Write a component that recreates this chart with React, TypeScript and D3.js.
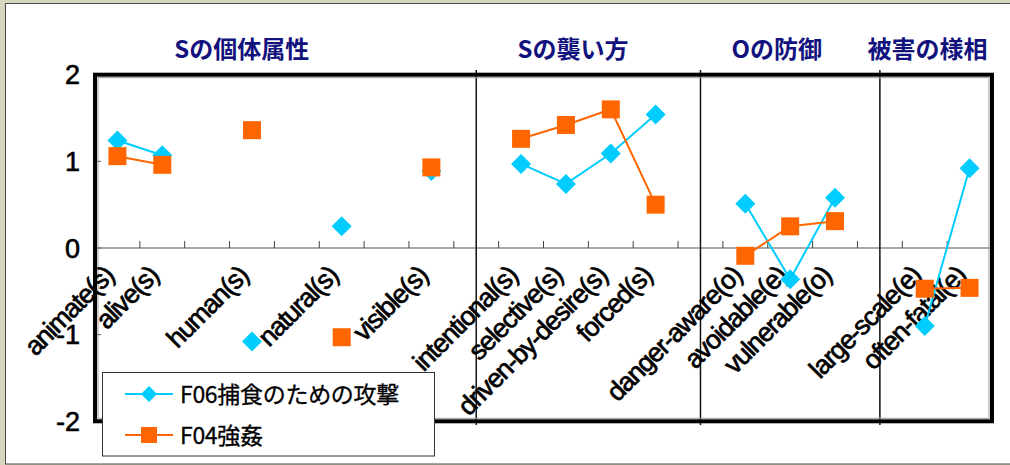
import React from "react";
import * as d3 from "d3";

// Category slots along the x axis; empty strings are spacer slots.
const categories: string[] = [
  "animate(s)", "alive(s)", "", "human(s)", "", "natural(s)", "", "visible(s)", "",
  "intentional(s)", "selective(s)", "driven-by-desire(s)", "forced(s)", "",
  "danger-aware(o)", "avoidable(e)", "vulnerable(o)", "",
  "large-scale(e)", "often-fatal(e)",
];

// F06 捕食のための攻撃
const seriesF06: (number | null)[] = [
  1.24, 1.07, null, -1.08, null, 0.25, null, 0.89, null,
  0.97, 0.74, 1.09, 1.54, null,
  0.51, -0.36, 0.58, null,
  -0.9, 0.92,
];

// F04 強姦
const seriesF04: (number | null)[] = [
  1.06, 0.96, null, 1.36, null, -1.03, null, 0.93, null,
  1.26, 1.42, 1.6, 0.5, null,
  -0.09, 0.25, 0.31, null,
  -0.47, -0.46,
];

const yTicks: number[] = [2, 1, 0, -1, -2];

// Spacer slots where group separators are drawn.
const dividerSlots: number[] = [8, 13, 17];

// Group headings and the slot position they are centred over.
const groupTitles: string[] = ["Sの個体属性", "Sの襲い方", "Oの防御", "被害の様相"];
const groupTitleSlots: number[] = [2.77, 10.16, 14.7, 18.06];

const seriesNames: string[] = ["F06捕食のための攻撃", "F04強姦"];
const seriesColors: string[] = ["#00CCFF", "#FF6600"];

const W = 1010;
const H = 465;
const plot = { left: 95, right: 992, top: 74.7, bottom: 421.3 };

export default function App() {
  const x = d3
    .scaleBand<number>()
    .domain(categories.map((_, i) => i))
    .range([plot.left, plot.right])
    .padding(0);
  const bw = x.bandwidth();
  const cx = (i: number) => plot.left + (i + 0.5) * bw;
  const y = d3.scaleLinear().domain([-2, 2]).range([plot.bottom, plot.top]);
  const y0 = y(0);

  const line = d3
    .line<number | null>()
    .defined((d) => d !== null)
    .x((_, i) => cx(i))
    .y((d) => y(d as number));

  const diamond = d3.symbol(d3.symbolSquare, 200)()!;
  const square = d3.symbol(d3.symbolSquare, 18 * 18)()!;
  const legendDiamond = d3.symbol(d3.symbolSquare, 128)()!;
  const legendSquare = d3.symbol(d3.symbolSquare, 16 * 16)()!;

  const boundaries = d3.range(1, categories.length).map((i) => plot.left + i * bw);

  return (
    <svg
      width={W}
      height={H}
      style={{ position: "absolute", left: 0, top: 0 }}
      xmlns="http://www.w3.org/2000/svg"
    >
      <rect x={0} y={0} width={W} height={H} fill="#d5d6bb" />
      <rect x={5.5} y={3.5} width={W} height={460.5} fill="#ffffff" stroke="#4a4a4a" strokeWidth={1} />

      {/* group headings */}
      {groupTitles.map((t, i) => (
        <text
          key={t}
          x={cx(groupTitleSlots[i])}
          y={58}
          textAnchor="middle"
          fontFamily="'Noto Sans CJK JP', sans-serif"
          fontWeight="bold"
          fontSize={24}
          fill="#12127e"
        >
          {t}
        </text>
      ))}

      {/* y axis labels */}
      {yTicks.map((t) => (
        <text
          key={t}
          x={80}
          y={y(t) + 9.5}
          textAnchor="end"
          fontFamily="'Liberation Sans', Arial, sans-serif"
          fontSize={27}
          fill="#000"
          stroke="#000"
          strokeWidth={0.6}
        >
          {t}
        </text>
      ))}

      {/* y ticks */}
      {yTicks.map((t) => (
        <line key={"yt" + t} x1={plot.left} x2={plot.left + 6} y1={y(t)} y2={y(t)} stroke="#555" strokeWidth={1} />
      ))}

      {/* zero line with category ticks */}
      <line x1={plot.left} x2={plot.right} y1={y0} y2={y0} stroke="#555" strokeWidth={1.2} />
      {boundaries.map((bx, i) => (
        <line key={"xt" + i} x1={bx} x2={bx} y1={y0 - 7} y2={y0} stroke="#444" strokeWidth={1} />
      ))}

      {/* group separators */}
      {dividerSlots.map((s) => (
        <line key={"dv" + s} x1={cx(s)} x2={cx(s)} y1={70} y2={425} stroke="#111" strokeWidth={1.5} />
      ))}

      {/* plot frame */}
      <rect
        x={plot.left + 3}
        y={plot.top + 3}
        width={plot.right - plot.left - 6}
        height={plot.bottom - plot.top - 6}
        fill="none"
        stroke="#999"
        strokeWidth={1}
      />
      <rect
        x={plot.left}
        y={plot.top}
        width={plot.right - plot.left}
        height={plot.bottom - plot.top}
        fill="none"
        stroke="#000"
        strokeWidth={4}
      />

      {/* category labels */}
      {categories.map((c, i) =>
        c ? (
          <text
            key={"cl" + i}
            transform={`translate(${cx(i) - 2},${y0 + 29}) rotate(-45)`}
            textAnchor="end"
            fontFamily="'Liberation Sans', Arial, sans-serif"
            fontSize={26.5}
            letterSpacing={-1.2}
            fill="#000"
            stroke="#000"
            strokeWidth={0.7}
          >
            {c}
          </text>
        ) : null
      )}

      {/* series lines */}
      <path d={line(seriesF06) || ""} fill="none" stroke={seriesColors[0]} strokeWidth={2} />
      <path d={line(seriesF04) || ""} fill="none" stroke={seriesColors[1]} strokeWidth={2} />

      {/* markers */}
      {seriesF06.map((v, i) =>
        v === null ? null : (
          <path
            key={"m6" + i}
            d={diamond}
            transform={`translate(${cx(i)},${y(v)}) rotate(45)`}
            fill={seriesColors[0]}
          />
        )
      )}
      {seriesF04.map((v, i) =>
        v === null ? null : (
          <path key={"m4" + i} d={square} transform={`translate(${cx(i)},${y(v)})`} fill={seriesColors[1]} />
        )
      )}

      {/* legend */}
      <rect x={102.5} y={372.5} width={332} height={83.5} fill="#fff" stroke="#333" strokeWidth={1} />
      {seriesNames.map((n, i) => {
        const ly = 394 + i * 41;
        return (
          <g key={n}>
            <line x1={125} x2={173} y1={ly} y2={ly} stroke={seriesColors[i]} strokeWidth={2} />
            <path
              d={i === 0 ? legendDiamond : legendSquare}
              transform={`translate(149,${ly})${i === 0 ? " rotate(45)" : ""}`}
              fill={seriesColors[i]}
            />
            <text
              x={180}
              y={ly + 8.5}
              fontFamily="'Noto Sans CJK JP', sans-serif"
              fontSize={23}
              letterSpacing={-0.3}
              fill="#000"
              stroke="#000"
              strokeWidth={0.3}
            >
              {n}
            </text>
          </g>
        );
      })}
    </svg>
  );
}
